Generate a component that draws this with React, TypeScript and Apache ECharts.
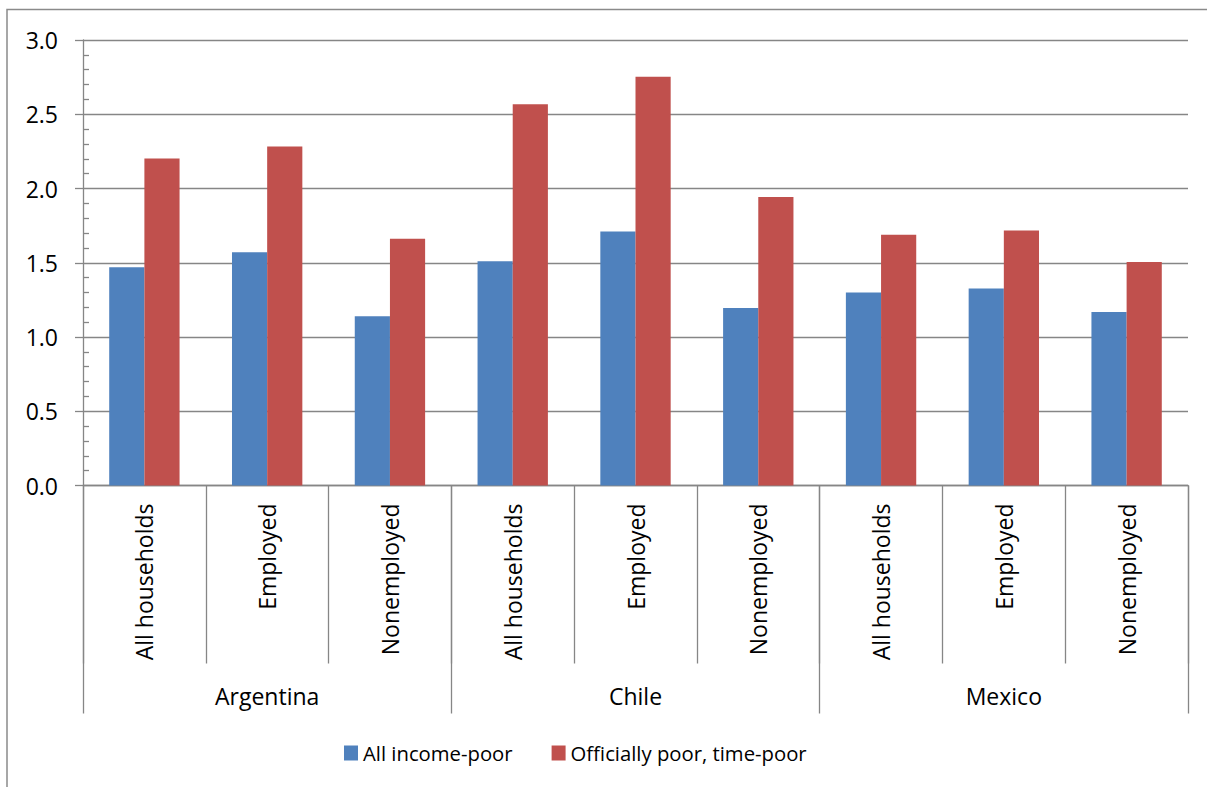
import React, { useEffect, useRef } from "react";
import * as echarts from "echarts";

const subCategories = [
  "All households", "Employed", "Nonemployed",
  "All households", "Employed", "Nonemployed",
  "All households", "Employed", "Nonemployed",
];
const countries = ["Argentina", "Chile", "Mexico"];
const allIncomePoor = [1.47, 1.57, 1.14, 1.51, 1.71, 1.195, 1.30, 1.326, 1.169];
const officiallyPoorTimePoor = [2.202, 2.283, 1.661, 2.567, 2.752, 1.942, 1.688, 1.717, 1.505];
const seriesNames = ["All income-poor", "Officially poor, time-poor"];

const FONT = "'Open Sans', sans-serif";
const GRAY = "#868686";
const AXIS_FS = 23;

export default function App() {
  const ref = useRef<HTMLDivElement>(null);
  useEffect(() => {
    if (!ref.current) return;
    const chart = echarts.init(ref.current, undefined, { renderer: "svg" });
    chart.setOption({
      animation: false,
      backgroundColor: "#ffffff",
      textStyle: { fontFamily: FONT },
      graphic: [
        {
          type: "rect",
          shape: { x: 7, y: 9.5, width: 1400, height: 1000 },
          style: { fill: "none", stroke: "#8a8a8a", lineWidth: 1.5 },
          silent: true,
        },
      ],
      legend: {
        left: 344,
        top: 743,
        padding: 0,
        icon: "rect",
        itemWidth: 14,
        itemHeight: 15,
        itemGap: 39,
        textStyle: { fontFamily: FONT, fontSize: 20.3, color: "#000" },
        data: seriesNames,
      },
      grid: { left: 83, right: 19, top: 40, bottom: 301.5, containLabel: false },
      xAxis: [
        {
          type: "category",
          data: subCategories,
          position: "bottom",
          axisLine: { show: true, lineStyle: { color: GRAY, width: 1.3 } },
          axisTick: { show: true, length: 178, lineStyle: { color: GRAY, width: 1.3 } },
          axisLabel: {
            rotate: 90,
            margin: 18,
            fontFamily: FONT,
            fontSize: AXIS_FS,
            color: "#000",
            interval: 0,
          },
        },
        {
          type: "category",
          data: countries,
          position: "bottom",
          axisLine: { show: false },
          axisTick: { show: true, length: 228, lineStyle: { color: GRAY, width: 1.3 } },
          axisLabel: {
            margin: 199,
            fontFamily: FONT,
            fontSize: AXIS_FS,
            color: "#000",
            interval: 0,
          },
        },
      ],
      yAxis: {
        type: "value",
        min: 0,
        max: 3,
        interval: 0.5,
        axisLine: { show: true, lineStyle: { color: GRAY, width: 1.3 } },
        axisTick: { show: true, length: 8, lineStyle: { color: GRAY, width: 1.3 } },
        minorTick: { show: true, splitNumber: 5, length: -6, lineStyle: { color: GRAY, width: 1.3 } },
        splitLine: { show: true, lineStyle: { color: GRAY, width: 1.3 } },
        axisLabel: {
          margin: 25,
          fontFamily: FONT,
          fontSize: AXIS_FS,
          color: "#000",
          formatter: (v: number) => v.toFixed(1),
        },
      },
      series: [
        {
          name: seriesNames[0],
          type: "bar",
          data: allIncomePoor,
          itemStyle: { color: "#4F81BD" },
          barGap: "0%",
          barCategoryGap: "42.7%",
        },
        {
          name: seriesNames[1],
          type: "bar",
          data: officiallyPoorTimePoor,
          itemStyle: { color: "#C0504D" },
          barGap: "0%",
          barCategoryGap: "42.7%",
        },
      ],
    });
    return () => chart.dispose();
  }, []);
  return (
    <div
      ref={ref}
      style={{ position: "fixed", left: 0, top: 0, width: 1207, height: 787 }}
    />
  );
}
